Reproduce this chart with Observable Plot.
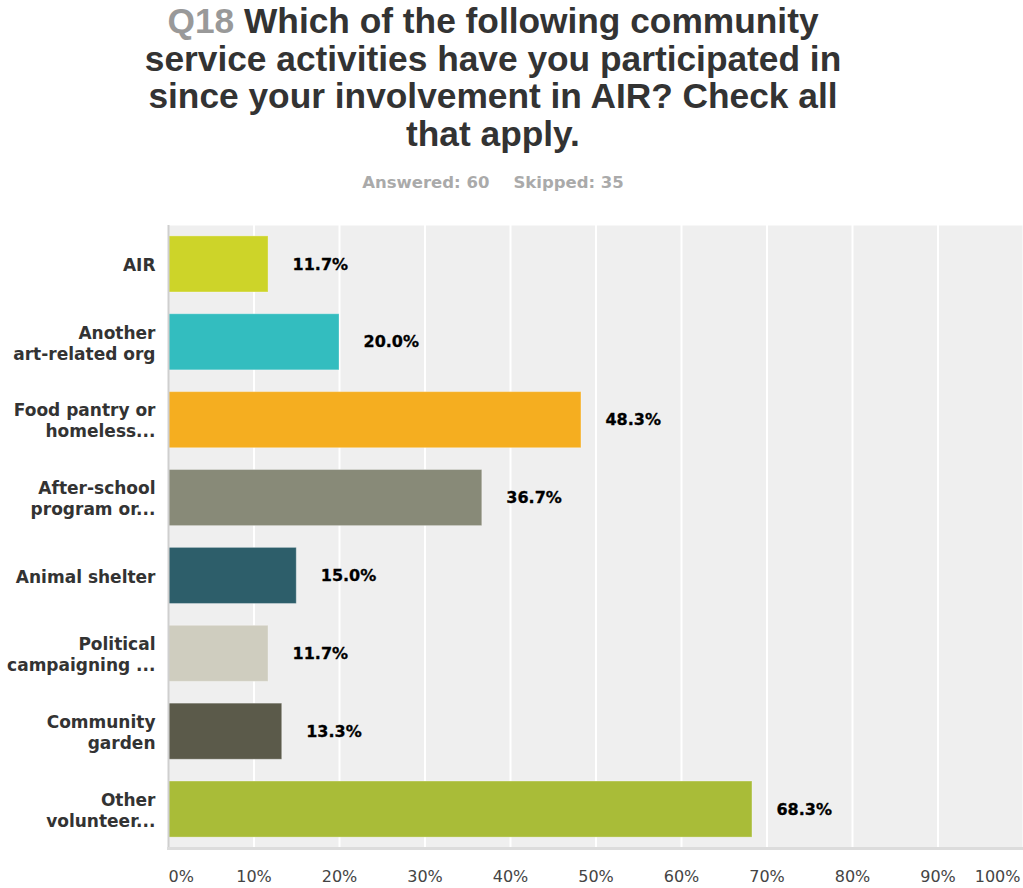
<!DOCTYPE html>
<html><head><meta charset="utf-8">
<script src="https://cdn.jsdelivr.net/npm/d3@7"></script>
<script src="https://cdn.jsdelivr.net/npm/@observablehq/plot@0.6"></script>
<style>
body{margin:0;background:#fff;width:1023px;height:888px;overflow:hidden;font-family:"Liberation Sans",Arial,sans-serif;position:relative}
#title{position:absolute;left:0;top:2px;width:986px;text-align:center;font-weight:bold;font-size:35.3px;line-height:37.7px;color:#333}
#title .q{color:#999}
#sub{position:absolute;left:0;top:173px;width:986px;text-align:center;font-weight:bold;font-size:16.5px;color:#aaa;font-family:"DejaVu Sans",sans-serif}
#sub span{margin:0 12px}
#chart{position:absolute;left:0;top:200px}
</style></head>
<body>
<div id="title"><span class="q">Q18</span> Which of the following community<br>service activities have you participated in<br>since your involvement in AIR? Check all<br>that apply.</div>
<div id="sub"><span>Answered: 60</span><span>Skipped: 35</span></div>
<div id="chart"></div>
<script>
const categories = ["AIR","Another art-related org","Food pantry or homeless...","After-school program or...","Animal shelter","Political campaigning ...","Community garden","Other volunteer..."];
const tickLabels = ["AIR","Another\nart-related org","Food pantry or\nhomeless...","After-school\nprogram or...","Animal shelter","Political\ncampaigning ...","Community\ngarden","Other\nvolunteer..."];
const values = [11.7,20.0,48.3,36.7,15.0,11.7,13.3,68.3];
const colors = ["#cdd429","#33bdbf","#f5ae20","#888a78","#2d5e6a","#cfcdbf","#5b5a4a","#a9bc38"];
const xTicks = [0,10,20,30,40,50,60,70,80,90,100];

const data = categories.map((c,i)=>({cat:c, value:values[i]}));
const labelOf = new Map(categories.map((c,i)=>[c,tickLabels[i]]));
const axisFont = {fontFamily:"DejaVu Sans", fontSize:16, fill:"#444", tickSize:0, tickPadding:22, tickFormat:d=>d+"%", label:null};

const chart = Plot.plot({
  width:1023, height:688,
  marginLeft:168, marginRight:0, marginTop:25, marginBottom:40,
  style:{background:"transparent", fontFamily:"DejaVu Sans"},
  x:{domain:[0,100], label:null},
  y:{domain:categories, paddingInner:0.28, paddingOuter:0.14, round:false, label:null},
  color:{domain:categories, range:colors},
  marks:[
    Plot.frame({fill:"#efefef", stroke:null}),
    Plot.ruleX(xTicks.slice(1), {stroke:"#fff", strokeWidth:2, strokeOpacity:1}),
    Plot.barX(data, {x:"value", y:"cat", fill:"cat", stroke:"#fff", strokeOpacity:0.3, strokeWidth:1}),
    Plot.ruleX([0], {stroke:"#cfcfcf", strokeWidth:2}),
    Plot.frame({anchor:"bottom", stroke:"#dcdcdc", strokeWidth:3, strokeOpacity:1}),
    Plot.text(data, {x:"value", y:"cat", text:d=>d.value.toFixed(1)+"%", dx:24, textAnchor:"start", fontWeight:"bold", fontSize:16, fill:"#000", stroke:"#000", strokeWidth:0.3, fontFamily:"DejaVu Sans"}),
    Plot.axisY({tickSize:0, tickPadding:13, tickFormat:d=>labelOf.get(d), fontSize:17, fontWeight:"bold", fill:"#333", lineHeight:1.24, fontFamily:"DejaVu Sans", label:null}),
    Plot.axisX(xTicks.slice(1,-1), axisFont),
    Plot.axisX([0], {...axisFont, textAnchor:"start"}),
    Plot.axisX([100], {...axisFont, textAnchor:"end", dx:-3})
  ]
});
document.getElementById("chart").appendChild(chart);
</script>
</body></html>
